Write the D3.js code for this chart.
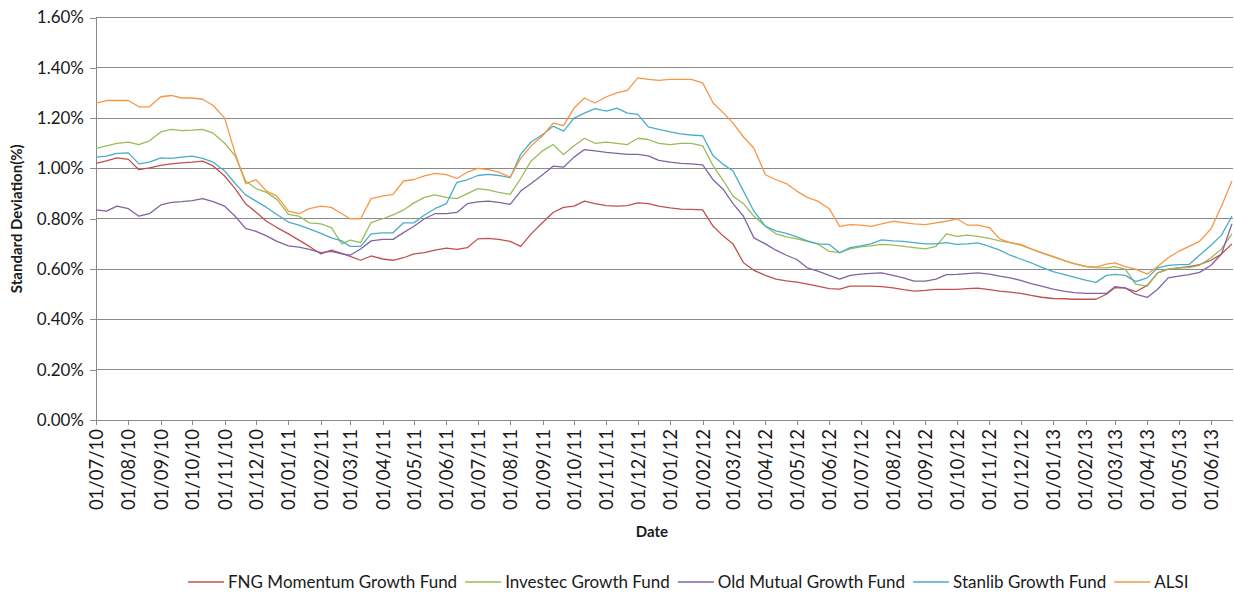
<!DOCTYPE html>
<html>
<head>
<meta charset="utf-8">
<script src="https://cdn.jsdelivr.net/npm/d3@7"></script>
<style>
  html, body { margin: 0; padding: 0; background: #ffffff; }
  svg { display: block; }
  text { font-family: Lato, "Open Sans", sans-serif; fill: #1a1a1a; }
</style>
</head>
<body>
<svg id="chart" width="1234" height="593"></svg>
<script>
// ---------- DATA ----------
const dates = [
 "2010-07-01","2010-07-11","2010-07-21","2010-08-01","2010-08-11","2010-08-21","2010-09-01","2010-09-11","2010-09-21",
 "2010-10-01","2010-10-11","2010-10-21","2010-11-01","2010-11-11","2010-11-21","2010-12-01","2010-12-11","2010-12-21",
 "2011-01-01","2011-01-11","2011-01-21","2011-02-01","2011-02-11","2011-02-21","2011-03-01","2011-03-11","2011-03-21",
 "2011-04-01","2011-04-11","2011-04-21","2011-05-01","2011-05-11","2011-05-21","2011-06-01","2011-06-11","2011-06-21",
 "2011-07-01","2011-07-11","2011-07-21","2011-08-01","2011-08-11","2011-08-21","2011-09-01","2011-09-11","2011-09-21",
 "2011-10-01","2011-10-11","2011-10-21","2011-11-01","2011-11-11","2011-11-21","2011-12-01","2011-12-11","2011-12-21",
 "2012-01-01","2012-01-11","2012-01-21","2012-02-01","2012-02-11","2012-02-21","2012-03-01","2012-03-11","2012-03-21",
 "2012-04-01","2012-04-11","2012-04-21","2012-05-01","2012-05-11","2012-05-21","2012-06-01","2012-06-11","2012-06-21",
 "2012-07-01","2012-07-11","2012-07-21","2012-08-01","2012-08-11","2012-08-21","2012-09-01","2012-09-11","2012-09-21",
 "2012-10-01","2012-10-11","2012-10-21","2012-11-01","2012-11-11","2012-11-21","2012-12-01","2012-12-11","2012-12-21",
 "2013-01-01","2013-01-11","2013-01-21","2013-02-01","2013-02-11","2013-02-21","2013-03-01","2013-03-11","2013-03-21",
 "2013-04-01","2013-04-11","2013-04-21","2013-05-01","2013-05-11","2013-05-21","2013-06-01","2013-06-11","2013-06-21"
];

const fngMomentum = [
 1.02,1.03,1.042, 1.036,0.995,1.002, 1.012,1.018,1.022, 1.025,1.029,1.01, 0.97,0.92,0.86, 0.826,0.79,0.765,
 0.74,0.715,0.69, 0.66,0.675,0.662, 0.65,0.635,0.652, 0.64,0.635,0.645, 0.66,0.665,0.675, 0.683,0.678,0.685,
 0.72,0.722,0.718, 0.71,0.69,0.74, 0.785,0.825,0.845, 0.85,0.87,0.86, 0.852,0.85,0.852, 0.863,0.86,0.85,
 0.843,0.838,0.837, 0.835,0.77,0.73, 0.70,0.625,0.595, 0.575,0.56,0.553, 0.548,0.54,0.532, 0.522,0.52,0.532,
 0.532,0.532,0.53, 0.525,0.518,0.512, 0.515,0.519,0.519, 0.519,0.522,0.524, 0.518,0.512,0.508, 0.503,0.495,0.488,
 0.483,0.482,0.48, 0.48,0.48,0.50, 0.526,0.524,0.51, 0.535,0.585,0.60, 0.605,0.61,0.618, 0.635,0.66,0.70
];

const investecGrowth = [
 1.08,1.09,1.10, 1.105,1.095,1.11, 1.145,1.155,1.15, 1.152,1.155,1.14, 1.10,1.05,0.95, 0.92,0.905,0.877,
 0.817,0.81,0.784, 0.78,0.765,0.70, 0.715,0.705,0.785, 0.80,0.815,0.835, 0.863,0.885,0.895, 0.885,0.88,0.90,
 0.92,0.915,0.905, 0.897,0.96,1.03, 1.07,1.095,1.055, 1.09,1.12,1.10, 1.105,1.10,1.095, 1.12,1.115,1.10,
 1.095,1.10,1.10, 1.09,1.01,0.95, 0.89,0.86,0.81, 0.77,0.74,0.728, 0.72,0.71,0.70, 0.67,0.665,0.68,
 0.688,0.692,0.698, 0.695,0.69,0.685, 0.68,0.69,0.74, 0.73,0.735,0.73, 0.722,0.712,0.705, 0.695,0.68,0.664,
 0.648,0.635,0.622, 0.61,0.606,0.605, 0.61,0.60,0.54, 0.532,0.585,0.60, 0.605,0.606,0.615, 0.645,0.68,0.74
];

const oldMutualGrowth = [
 0.835,0.83,0.85, 0.84,0.81,0.82, 0.855,0.865,0.868, 0.872,0.88,0.868, 0.85,0.81,0.762, 0.75,0.732,0.71,
 0.692,0.687,0.678, 0.665,0.67,0.66, 0.655,0.68,0.712, 0.718,0.718,0.745, 0.77,0.80,0.82, 0.82,0.825,0.86,
 0.867,0.87,0.865, 0.857,0.91,0.94, 0.975,1.009,1.005, 1.045,1.075,1.07, 1.064,1.06,1.056, 1.056,1.05,1.032,
 1.025,1.02,1.018, 1.014,0.955,0.915, 0.86,0.81,0.724, 0.70,0.675,0.655, 0.638,0.605,0.592, 0.575,0.56,0.575,
 0.58,0.583,0.585, 0.575,0.565,0.552, 0.552,0.56,0.578, 0.579,0.582,0.585, 0.58,0.572,0.565, 0.555,0.542,0.532,
 0.52,0.512,0.506, 0.503,0.503,0.503, 0.53,0.525,0.50, 0.487,0.52,0.565, 0.572,0.578,0.587, 0.615,0.66,0.78
];

const stanlibGrowth = [
 1.045,1.049,1.06, 1.062,1.018,1.025, 1.042,1.04,1.045, 1.049,1.04,1.025, 0.99,0.94,0.895, 0.87,0.845,0.817,
 0.787,0.775,0.76, 0.742,0.724,0.712, 0.69,0.69,0.74, 0.744,0.744,0.784, 0.784,0.815,0.84, 0.86,0.945,0.955,
 0.972,0.976,0.972, 0.963,1.056,1.105, 1.135,1.168,1.148, 1.20,1.22,1.238, 1.228,1.24,1.22, 1.215,1.165,1.155,
 1.145,1.137,1.133, 1.13,1.05,1.015, 0.99,0.91,0.83, 0.77,0.752,0.742, 0.728,0.712,0.70, 0.698,0.665,0.685,
 0.692,0.70,0.716, 0.712,0.71,0.705, 0.70,0.70,0.705, 0.698,0.70,0.704, 0.69,0.675,0.655, 0.64,0.625,0.607,
 0.59,0.579,0.568, 0.556,0.547,0.575, 0.579,0.575,0.55, 0.565,0.605,0.615, 0.618,0.618,0.655, 0.695,0.735,0.81
];

const alsi = [
 1.26,1.27,1.27, 1.27,1.245,1.245, 1.285,1.29,1.28, 1.28,1.275,1.25, 1.20,1.06,0.94, 0.955,0.91,0.89,
 0.83,0.82,0.84, 0.85,0.845,0.82, 0.80,0.80,0.88, 0.89,0.897,0.95, 0.956,0.97,0.98, 0.975,0.96,0.985,
 1.0,0.995,0.985, 0.965,1.04,1.09, 1.13,1.18,1.17, 1.24,1.28,1.26, 1.285,1.30,1.31, 1.36,1.354,1.35,
 1.354,1.354,1.354, 1.34,1.26,1.22, 1.18,1.125,1.08, 0.975,0.955,0.94, 0.91,0.885,0.87, 0.84,0.77,0.777,
 0.775,0.77,0.78, 0.79,0.785,0.78, 0.777,0.784,0.79, 0.80,0.775,0.775, 0.765,0.72,0.705, 0.698,0.68,0.665,
 0.65,0.635,0.622, 0.612,0.608,0.62, 0.625,0.61,0.60, 0.58,0.61,0.645, 0.67,0.69,0.71, 0.76,0.85,0.95
];

const seriesNames = ["FNG Momentum Growth Fund","Investec Growth Fund","Old Mutual Growth Fund","Stanlib Growth Fund","ALSI"];
const seriesValues = [fngMomentum, investecGrowth, oldMutualGrowth, stanlibGrowth, alsi];
const seriesColors = ["#C0504D","#9BBB59","#8064A2","#4BACC6","#F79646"];

const xTickLabels = [
 "01/07/10","01/08/10","01/09/10","01/10/10","01/11/10","01/12/10",
 "01/01/11","01/02/11","01/03/11","01/04/11","01/05/11","01/06/11","01/07/11","01/08/11","01/09/11","01/10/11","01/11/11","01/12/11",
 "01/01/12","01/02/12","01/03/12","01/04/12","01/05/12","01/06/12","01/07/12","01/08/12","01/09/12","01/10/12","01/11/12","01/12/12",
 "01/01/13","01/02/13","01/03/13","01/04/13","01/05/13","01/06/13"
];
const yTicks = [0, 0.2, 0.4, 0.6, 0.8, 1.0, 1.2, 1.4, 1.6];
const xStart = "2010-07-01", xEnd = "2013-06-22";

// ---------- LAYOUT ----------
const plot = { left: 96, right: 1233, top: 17.5, bottom: 420 };
const gridColor = "#8a8a8a";
const parseISO = d3.timeParse("%Y-%m-%d");
const parseTick = d3.timeParse("%d/%m/%y");

const svg = d3.select("#chart");

const x = d3.scaleTime()
  .domain([parseISO(xStart), parseISO(xEnd)])
  .range([plot.left, plot.right]);
const y = d3.scaleLinear()
  .domain([0, 1.6])
  .range([plot.bottom, plot.top]);

// gridlines
svg.append("g")
  .selectAll("line")
  .data(yTicks.filter(v => v > 0))
  .join("line")
  .attr("x1", plot.left).attr("x2", plot.right)
  .attr("y1", d => y(d)).attr("y2", d => y(d))
  .attr("stroke", gridColor).attr("stroke-width", 1)
  .attr("shape-rendering", "crispEdges");

// y axis
const yAxis = svg.append("g")
  .attr("transform", `translate(${plot.left},0)`)
  .call(d3.axisLeft(y).tickValues(yTicks).tickSize(6).tickPadding(6)
        .tickFormat(d => d.toFixed(2) + "%"));
yAxis.selectAll("path, line").attr("stroke", gridColor).attr("shape-rendering", "crispEdges");
yAxis.select(".domain").attr("d", `M-0,${plot.bottom}V${plot.top}`);
yAxis.selectAll("text").attr("font-size", 17).attr("font-family", "Lato").attr("fill", "#1a1a1a");

// x axis
const xTickDates = xTickLabels.map(s => parseTick(s));
const xAxis = svg.append("g")
  .attr("transform", `translate(0,${plot.bottom})`)
  .call(d3.axisBottom(x).tickValues(xTickDates).tickSize(5)
        .tickFormat((d, i) => xTickLabels[i]));
xAxis.selectAll("path, line").attr("stroke", gridColor).attr("shape-rendering", "crispEdges");
xAxis.select(".domain").attr("d", `M${plot.left},0H${plot.right}`);
xAxis.selectAll("text")
  .attr("font-size", 18.5).attr("font-family", "Lato").attr("fill", "#1a1a1a")
  .attr("text-anchor", "end")
  .attr("transform", "rotate(-90)")
  .attr("x", -9).attr("y", 0).attr("dy", "0.35em");

// series lines
const line = d3.line()
  .x((d, i) => x(parseISO(dates[i])))
  .y(d => y(d));
svg.append("g")
  .selectAll("path")
  .data(seriesValues)
  .join("path")
  .attr("d", d => line(d))
  .attr("fill", "none")
  .attr("stroke", (d, i) => seriesColors[i])
  .attr("stroke-width", 1.3)
  .attr("stroke-linejoin", "round");

// axis titles
svg.append("text")
  .attr("transform", `translate(22,${(plot.top + plot.bottom) / 2}) rotate(-90)`)
  .attr("text-anchor", "middle")
  .attr("font-size", 15).attr("font-weight", "bold")
  .text("Standard Deviation(%)");
svg.append("text")
  .attr("x", 652).attr("y", 537)
  .attr("text-anchor", "middle")
  .attr("font-size", 15).attr("font-weight", "bold")
  .text("Date");

// legend
const legend = svg.append("g").attr("transform", "translate(0,582)");
let lx = 188;
seriesNames.forEach((name, i) => {
  const g = legend.append("g").attr("transform", `translate(${lx},0)`);
  g.append("line").attr("x1", 0).attr("x2", 36).attr("y1", 0).attr("y2", 0)
    .attr("stroke", seriesColors[i]).attr("stroke-width", 1.3);
  const t = g.append("text").attr("x", 40).attr("y", 0).attr("dy", "0.35em")
    .attr("font-size", 17).text(name);
  lx += 40 + t.node().getComputedTextLength() + 8;
});
</script>
</body>
</html>
